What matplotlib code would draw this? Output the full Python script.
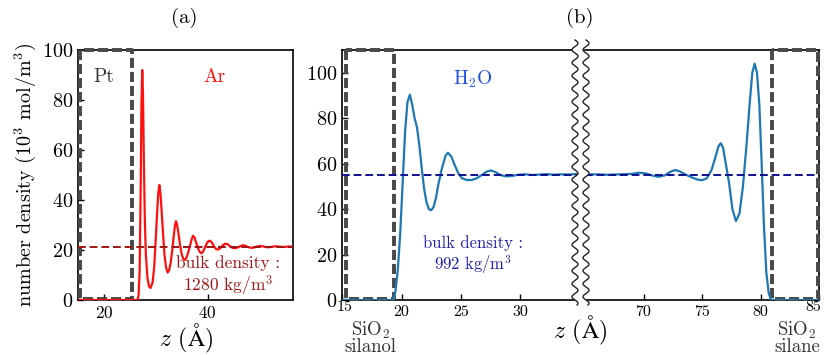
import numpy as np
import matplotlib
matplotlib.use("Agg")
import matplotlib.pyplot as plt
from matplotlib.path import Path
from matplotlib.patches import PathPatch

plt.rcParams['font.family'] = ['cmr10', 'DejaVu Serif']
plt.rcParams['mathtext.fontset'] = 'cm'
plt.rcParams['axes.unicode_minus'] = False
plt.rcParams['axes.formatter.use_mathtext'] = True

# Ar density profile next to Pt wall, panel (a)
ar_z = [15.0, 26.5, 26.7, 26.9, 27.1, 27.25, 27.4, 27.55, 27.7, 27.9, 28.1, 28.4, 28.7, 29.0,
        29.4, 29.7, 30.0, 30.3, 30.5, 30.7, 30.9, 31.1, 31.4, 31.7, 32.0, 32.3, 32.6, 32.9, 33.2,
        33.5, 33.7, 33.9, 34.1, 34.4, 34.7, 35.0, 35.3, 35.6, 35.9, 36.2, 36.6, 36.9, 37.2, 37.5,
        37.8, 38.2, 38.5, 38.8, 39.1, 39.5, 39.9, 40.2, 40.5, 40.9, 41.3, 41.7, 42.1, 42.5, 42.9,
        43.4, 43.8, 44.3, 44.8, 45.3, 45.8, 46.3, 46.8, 47.3, 47.8, 48.3, 48.8, 49.4, 50.0, 50.6,
        51.2, 51.8, 52.5, 53.2, 54.0, 54.8, 55.6, 56.5]
ar_n = [0.0, 0.0, 2.0, 12.0, 45.0, 78.0, 92.0, 82.0, 58.0, 32.0, 18.0, 9.0, 5.5, 4.8,
        7.0, 13.0, 24.0, 36.0, 43.0, 46.0, 43.0, 37.0, 27.0, 18.0, 13.0, 11.0, 12.0, 15.0, 20.0,
        26.0, 29.5, 31.5, 30.5, 26.5, 22.0, 18.5, 16.5, 16.0, 16.8, 18.5, 21.5, 24.0, 25.7, 25.0,
        23.0, 20.5, 19.2, 18.7, 19.2, 21.0, 22.8, 23.6, 23.7, 22.8, 21.3, 20.3, 20.2, 20.8, 21.8,
        22.5, 22.4, 21.6, 20.9, 20.7, 21.0, 21.5, 21.9, 21.7, 21.2, 20.9, 20.9, 21.3, 21.6, 21.5,
        21.2, 21.1, 21.3, 21.5, 21.3, 21.2, 21.4, 21.3]
ar_bulk = 21.3

# H2O density profile between silanol and silane SiO2 walls, panel (b)
w_left_z = [15.0, 19.3, 19.5, 19.7, 19.9, 20.1, 20.3, 20.5, 20.7, 20.9, 21.1, 21.3, 21.5, 21.7,
            21.9, 22.1, 22.3, 22.5, 22.7, 22.9, 23.1, 23.4, 23.7, 23.9, 24.2, 24.5, 24.8, 25.1,
            25.5, 25.9, 26.3, 26.8, 27.2, 27.5, 27.9, 28.3, 28.8, 29.3, 29.8, 30.4, 31.0, 31.6,
            32.2, 32.8, 33.4, 34.0, 34.6, 35.0]
w_left_n = [0.0, 0.0, 4.0, 14.0, 30.0, 52.0, 74.0, 87.0, 90.3, 86.0, 80.0, 76.0, 68.0, 58.0,
            49.0, 43.0, 40.0, 39.5, 41.0, 45.0, 51.0, 58.0, 63.5, 64.8, 63.0, 59.0, 55.5, 53.5,
            52.8, 52.8, 53.5, 55.2, 56.6, 57.0, 56.3, 55.0, 54.4, 54.6, 55.1, 55.3, 55.0, 55.2,
            55.4, 55.1, 55.3, 55.2, 55.4, 55.2]
w_right_z = [65.0, 66.0, 67.0, 68.0, 69.0, 69.6, 70.2, 70.8, 71.3, 71.8, 72.3, 72.7, 73.1, 73.6,
             74.1, 74.6, 75.0, 75.4, 75.8, 76.1, 76.4, 76.6, 76.8, 77.0, 77.3, 77.6, 77.9, 78.2,
             78.5, 78.8, 79.1, 79.3, 79.5, 79.7, 79.9, 80.1, 80.3, 80.5, 80.7, 80.9, 85.0]
w_right_n = [55.2, 55.3, 55.1, 55.3, 55.5, 56.0, 55.7, 54.7, 54.2, 54.8, 56.4, 57.2, 56.6, 55.2,
             54.0, 53.0, 52.7, 53.5, 57.0, 62.0, 67.5, 69.0, 67.0, 61.0, 52.0, 40.0, 34.7, 38.0,
             50.0, 68.0, 88.0, 100.0, 104.0, 100.0, 86.0, 60.0, 32.0, 12.0, 3.0, 0.0, 0.0]
w_bulk = 55.0

# wall boxes (z ranges)
pt_wall = (15.3, 25.5)
silanol_wall = (15.3, 19.35)
silane_wall = (81.0, 84.9)

wall_col = '#484848'
ar_col = '#ff1010'
ar_bulk_col = '#a01515'
w_col = '#1f77b4'
w_bulk_col = '#101090'


def wall_box(ax, z0, z1, top):
    ax.plot([z0, z0, z1, z1, z0], [top, 0.3, 0.3, top, top], color=wall_col, lw=2.8,
            dashes=(2.6, 1.0), clip_on=False, zorder=3)


def style(ax, xsize):
    ax.tick_params(direction='in', length=4, width=1, labelsize=14.5)
    ax.tick_params(axis='x', labelsize=xsize)
    for s in ax.spines.values():
        s.set_linewidth(1.2)


fig = plt.figure(figsize=(8.24, 3.55), dpi=100)

# panel (a)
ax_a = fig.add_axes([78 / 824, 55 / 355, 215 / 824, 250 / 355])
wall_box(ax_a, pt_wall[0], pt_wall[1], 100)
ax_a.plot(ar_z, ar_n, color=ar_col, lw=1.6, zorder=4)
ax_a.axhline(ar_bulk, color=ar_bulk_col, lw=1.4, dashes=(4, 2), zorder=5)
ax_a.set_xlim(15, 56.5)
ax_a.set_ylim(0, 100)
ax_a.set_xticks([20, 40])
ax_a.set_yticks([0, 20, 40, 60, 80, 100])
style(ax_a, 12.5)
ax_a.set_xlabel(r'$z$ ($\mathrm{\AA}$)', fontsize=17, labelpad=1)
ax_a.set_ylabel(r'number density (10$^3$ mol/m$^3$)', fontsize=14.5, labelpad=3)
ax_a.text(20, 89, 'Pt', color='#333333', fontsize=14, ha='center', va='center')
ax_a.text(41.4, 89, 'Ar', color=ar_col, fontsize=14, ha='center', va='center')
ax_a.text(44, 9.5, 'bulk density :\n1280 kg/m$^3$', color=ar_bulk_col, fontsize=12.5,
          ha='center', va='center', linespacing=1.15)

# panel (b), broken z axis
ax_l = fig.add_axes([342 / 824, 55 / 355, 238 / 824, 250 / 355])
ax_r = fig.add_axes([585 / 824, 55 / 355, 234 / 824, 250 / 355])
for ax in (ax_l, ax_r):
    ax.plot(w_left_z + w_right_z, w_left_n + w_right_n, color=w_col, lw=1.6, zorder=4)
    ax.axhline(w_bulk, color=w_bulk_col, lw=1.4, dashes=(4, 2), zorder=5)
    ax.set_ylim(0, 110)
    style(ax, 11.5)
wall_box(ax_l, silanol_wall[0], silanol_wall[1], 110)
wall_box(ax_r, silane_wall[0], silane_wall[1], 110)
ax_l.set_xlim(15, 35)
ax_r.set_xlim(65, 85)
ax_l.set_xticks([15, 20, 25, 30])
ax_r.set_xticks([70, 75, 80, 85])
ax_l.set_yticks([0, 20, 40, 60, 80, 100])
ax_l.spines['right'].set_visible(False)
ax_r.spines['left'].set_visible(False)
ax_r.tick_params(axis='y', left=False, labelleft=False)
# end labels 15 and 85 sit a little higher, as in the figure
ax_l.set_xticklabels(['', '20', '25', '30'])
ax_r.set_xticklabels(['70', '75', '80', ''])
ax_l.text(15.2, -0.03, '15', transform=ax_l.get_xaxis_transform(), fontsize=11.5,
          ha='center', va='center')
ax_r.text(85.15, -0.03, '85', transform=ax_r.get_xaxis_transform(), fontsize=11.5,
          ha='right', va='center')

ax_l.text(26, 97, 'H$_2$O', color='#1f50e0', fontsize=14, ha='center', va='center')
ax_l.text(26, 19.5, 'bulk density :\n992 kg/m$^3$', color='#2020a8', fontsize=12,
          ha='center', va='center', linespacing=1.15)
ax_l.text(17.4, -8.5, 'SiO$_2$\nsilanol', color='#333333', fontsize=13.5, ha='center', va='top',
          linespacing=0.82, clip_on=False)
ax_r.text(83.1, -8.5, 'SiO$_2$\nsilane', color='#333333', fontsize=13.5, ha='center', va='top',
          linespacing=0.82, clip_on=False)

# wavy break marks between the two halves of panel (b)
ys = np.linspace(305, 40, 400)
xs = 3 * np.sin((ys - 40) / 13 * 2 * np.pi)
x1 = (575 + xs) / 824
x2 = (586 + xs) / 824
yy = (355 - ys) / 355
verts = list(zip(x1, yy)) + list(zip(x2[::-1], yy[::-1]))
fig.patches.append(PathPatch(Path(verts), facecolor='white', edgecolor='none',
                             transform=fig.transFigure, zorder=10))
fig.lines.append(plt.Line2D(x1, yy, color='#222222', lw=1.0, transform=fig.transFigure, zorder=11))
fig.lines.append(plt.Line2D(x2, yy, color='#222222', lw=1.0, transform=fig.transFigure, zorder=11))

fig.text(184 / 824, 1 - 18 / 355, '(a)', fontsize=15, ha='center', va='center')
fig.text(580 / 824, 1 - 18 / 355, '(b)', fontsize=15, ha='center', va='center')
fig.text(580 / 824, 1 - 330 / 355, r'$z$ ($\mathrm{\AA}$)', fontsize=17, ha='center', va='center')

fig.savefig('out.png', dpi=100)
